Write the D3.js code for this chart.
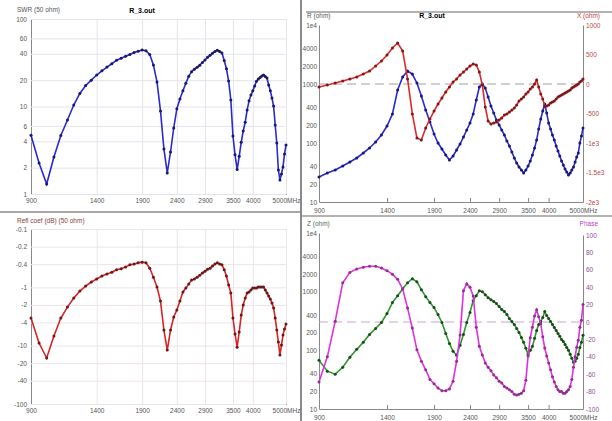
<!DOCTYPE html>
<html>
<head>
<meta charset="utf-8">
<script src="https://cdn.jsdelivr.net/npm/d3@7"></script>
<style>
body { margin: 0; background: #fff; }
text { font-family: "Liberation Sans", Arial, sans-serif; }
</style>
</head>
<body>
<script>
// sweep frequencies (MHz) shared by all four plots
const freqs = [900, 950, 1000, 1050, 1100, 1150, 1200, 1250, 1300, 1350, 1400,
  1450, 1500, 1550, 1600, 1650, 1700, 1750, 1800, 1850, 1900,
  1950, 2000, 2050, 2100, 2150, 2200, 2250, 2300, 2350, 2400,
  2450, 2500, 2550, 2600, 2650, 2700, 2750, 2800, 2850, 2900,
  2950, 3000, 3050, 3100, 3150, 3200, 3250, 3300, 3350, 3400,
  3450, 3500, 3550, 3600, 3650, 3700, 3750, 3800, 3850, 3900,
  3950, 4000, 4050, 4100, 4150, 4200, 4250, 4300, 4350, 4400,
  4450, 4500, 4550, 4600, 4650, 4700, 4750, 4800, 4850, 4900,
  4950, 5000];

// top left
const swr = [4.7, 2.26, 1.3, 2.65, 4.67, 7.0, 10.4, 14.1, 17.4, 20.0, 22.9,
  25.6, 28.2, 30.8, 33.8, 35.6, 37.6, 39.4, 41.3, 42.7, 44.2,
  43.3, 39.4, 29.8, 19.1, 8.9, 3.27, 1.74, 3.02, 5.68, 9.4,
  12.2, 15.1, 18.4, 22.2, 25, 26.7, 28.1, 29.7, 31.8, 34,
  36.5, 38.5, 40.5, 42.5, 44, 42.5, 41, 33.6, 27, 19.5,
  11.9, 4.6, 2.8, 1.9, 2.7, 3.9, 5.25, 6.6, 9.1, 11.6,
  13.5, 15.1, 17.2, 19.4, 20.6, 21.5, 22.3, 22.9, 22.0, 21.2,
  17.6, 15.1, 12.5, 10.1, 6.15, 3.83, 1.88, 1.45, 1.69, 2.04,
  2.86, 3.63];
// bottom left
const reflDb = [-3.36, -9.0, -16.3, -6.84, -3.36, -2.18, -1.53, -1.16, -0.95, -0.81, -0.72,
  -0.64, -0.59, -0.55, -0.5, -0.48, -0.45, -0.41, -0.4, -0.38, -0.37,
  -0.38, -0.47, -0.67, -0.99, -1.72, -5.4, -11.9, -5.4, -3.23, -2.45,
  -1.72, -1.2, -1.03, -0.88, -0.75, -0.72, -0.67, -0.62, -0.57, -0.53,
  -0.49, -0.47, -0.43, -0.4, -0.38, -0.4, -0.41, -0.5, -0.64, -0.91,
  -1.25, -3.36, -6.32, -10.6, -5.84, -2.99, -2.01, -1.53, -1.25, -1.2,
  -1.11, -1.03, -1.03, -1.03, -0.99, -0.99, -0.99, -0.99, -1.11, -1.25,
  -1.41, -1.59, -1.86, -2.26, -3.36, -5.4, -8.67, -14.5, -9.77, -6.58,
  -5.19, -4.26];
// top right
const resistance = [26.5, 31, 34.8, 40.7, 47.6, 55.7, 67.7, 82.3, 104, 137, 194,
  310, 791, 1315, 1660, 1476, 1040, 626, 362, 227, 142,
  100, 79, 62.6, 51.5, 60.2, 76.1, 96.2, 126, 166, 218,
  310, 535, 889, 1000, 855, 602, 424, 322, 245, 202,
  166, 137, 108, 89, 70.4, 55.7, 45.8, 39.2, 34.8, 31,
  34.8, 40.7, 49.5, 62.6, 82.3, 112, 173, 255, 348, 458,
  322, 218, 173, 137, 112, 89, 73.1, 60.2, 49.5, 42.4,
  36.2, 32.2, 28.7, 31, 34.8, 39.2, 47.6, 57.9, 67.7, 100,
  131, 180];
const reactance = [-51, -17, 17, 51, 85, 119, 169, 220, 305, 390, 492,
  610, 695, 559, 85, -508, -915, -949, -746, -593, -458,
  -339, -237, -136, -51, 34, 85, 153, 203, 254, 305,
  339, 322, 203, -17, -390, -627, -678, -661, -644, -610,
  -576, -525, -508, -475, -441, -407, -356, -288, -254, -220,
  -169, -136, -85, -51, 0, 68, -51, -169, -254, -373,
  -373, -356, -322, -305, -288, -254, -220, -203, -186, -169,
  -153, -136, -119, -102, -68, -51, -34, -17, 0, 34,
  51, 85];
// bottom right
const impedance = [67.7, 44.1, 39.2, 51.5, 76.1, 104, 137, 187, 236, 298, 424,
  652, 855, 1125, 1422, 1660, 1476, 1081, 822, 652, 535,
  407, 298, 194, 131, 96.2, 82.3, 122, 187, 298, 441,
  703, 855, 1040, 1000, 889, 791, 731, 677, 626, 557,
  495, 458, 407, 348, 310, 276, 236, 202, 166, 137,
  108, 85.5, 100, 117, 160, 218, 276, 310, 362, 458,
  392, 348, 310, 276, 245, 218, 194, 173, 153, 142,
  126, 112, 100, 85.5, 73.1, 62.6, 65.2, 73.1, 85.5, 112,
  137, 180];
const phase = [-69, -40, 1, 45, 57, 61, 63, 64, 64, 62, 59,
  55, 49, 38, 16, -7, -32, -45, -55, -66, -71,
  -76, -79, -79, -77, -68, -45, -15, 36, 44, 40,
  30, -6, -28, -38, -47, -52, -56, -61, -64, -68,
  -70, -74, -76, -78, -80, -83, -84, -83, -82, -79,
  -67, -39, -18, -6, 7, 14, 6, -2, -17, -30,
  -39, -47, -55, -63, -69, -74, -78, -80, -80, -82,
  -82, -80, -78, -74, -66, -52, -40, -29, -21, -6,
  2, 20];

// tick labels
const freqTicks = [900, 1400, 1900, 2400, 2900, 3500, 4000, 5000];
const swrTicks = [1, 2, 4, 6, 10, 20, 40, 60, 100];
const dbTicks = [-0.1, -0.2, -0.4, -1, -2, -4, -10, -20, -40, -100];
const ohmTicks = [10, 20, 40, 100, 200, 400, 1000, 2000, 4000, 10000];
const reactTicks = [1000, 500, 0, -500, -1000, -1500, -2000];
const phaseTicks = [100, 80, 60, 40, 20, 0, -20, -40, -60, -80, -100];

const W = 612, H = 421;
const fs = 6.5;

let svg = d3.select("body").append("svg")
    .attr("width", W)
    .attr("height", H);

// window frames
svg.append("line").attr("x1", 301).attr("x2", 301).attr("y1", 0).attr("y2", H)
    .attr("stroke", "#8a8a8a").attr("stroke-width", 2);
svg.append("line").attr("x1", 306).attr("x2", W).attr("y1", 12).attr("y2", 12)
    .attr("stroke", "#9a9a9a").attr("stroke-width", 1.5);
svg.append("line").attr("x1", 0).attr("x2", 300).attr("y1", 212).attr("y2", 212)
    .attr("stroke", "#8a8a8a").attr("stroke-width", 1.5);
svg.append("line").attr("x1", 302).attr("x2", W).attr("y1", 216).attr("y2", 216)
    .attr("stroke", "#9a9a9a").attr("stroke-width", 1.5);

let fmtFreq = d => d === 5000 ? "5000MHz" : d;
let fmtOhm = d => d === 10000 ? "1e4" : d;
let fmtReact = d => d <= -1000 ? (d / 1000) + "e3" : d;

function series(g, x, y, vals, lineColor, dotColor) {
  let pts = freqs.map((f, i) => [f, vals[i]]);
  g.append("path")
      .datum(pts)
      .attr("fill", "none")
      .attr("stroke", lineColor)
      .attr("stroke-width", 1.6)
      .attr("d", d3.line().x(d => x(d[0])).y(d => y(d[1])));
  g.selectAll(null).data(pts)
      .enter()
      .append("circle")
      .attr("cx", d => x(d[0]))
      .attr("cy", d => y(d[1]))
      .attr("r", 1.5)
      .attr("fill", dotColor);
}

function styleAxis(a, color, lineColor) {
  a.selectAll("text").style("font-size", fs + "px").attr("fill", color);
  a.select(".domain").attr("stroke", lineColor || "#888");
}

// ---------- top left: SWR ----------
let xL = d3.scaleLog().domain([900, 5000]).range([31, 286]);
let ySwr = d3.scaleLog().domain([1, 100]).range([194, 19]);
let g1 = svg.append("g");

let gx1 = g1.append("g").attr("transform", "translate(0,194)")
    .call(d3.axisBottom(xL).tickValues(freqTicks).tickFormat(fmtFreq).tickSize(-175).tickPadding(4));
gx1.selectAll(".tick line").attr("stroke", "#e4e4ec");
styleAxis(gx1, "#555");
let gy1 = g1.append("g").attr("transform", "translate(31,0)")
    .call(d3.axisLeft(ySwr).tickValues(swrTicks).tickFormat(d => d).tickSize(-255).tickPadding(4));
gy1.selectAll(".tick line").attr("stroke", "#e4e4ec");
styleAxis(gy1, "#555");

series(g1, xL, ySwr, swr, "#2a2ad0", "#1a1a60");

g1.append("text").attr("x", 17).attr("y", 12).style("font-size", fs + "px").attr("fill", "#555").text("SWR (50 ohm)");
g1.append("text").attr("x", 142).attr("y", 13).style("font-size", "7px").style("font-weight", "bold")
    .attr("text-anchor", "middle").text("R_3.out");

// ---------- bottom left: reflection coefficient ----------
let yDb = d3.scaleLog().domain([0.1, 100]).range([229, 404]);
let g2 = svg.append("g");

let gx2 = g2.append("g").attr("transform", "translate(0,404)")
    .call(d3.axisBottom(xL).tickValues(freqTicks).tickFormat(fmtFreq).tickSize(-175).tickPadding(4));
gx2.selectAll(".tick line").attr("stroke", "#ece4e8");
styleAxis(gx2, "#555");
let gy2 = g2.append("g").attr("transform", "translate(31,0)")
    .call(d3.axisLeft(d3.scaleLog().domain([-0.1, -100]).range([229, 404]))
        .tickValues(dbTicks).tickFormat(d => d).tickSize(-255).tickPadding(4));
gy2.selectAll(".tick line").attr("stroke", "#ece4e8");
styleAxis(gy2, "#555");

series(g2, xL, v => yDb(-v), reflDb, "#d82424", "#6a1818");

g2.append("text").attr("x", 17).attr("y", 223).style("font-size", fs + "px").attr("fill", "#8a4040")
    .text("Refl coef (dB) (50 ohm)");

// ---------- top right: R / X ----------
let xR = d3.scaleLog().domain([900, 5000]).range([319, 583]);
let yRes = d3.scaleLog().domain([10, 10000]).range([202, 25]);
let yReact = d3.scaleLinear().domain([-2000, 1000]).range([202, 25]);
let g3 = svg.append("g");

let gx3 = g3.append("g").attr("transform", "translate(0,202)")
    .call(d3.axisBottom(xR).tickValues(freqTicks).tickFormat(fmtFreq).tickSizeInner(-4).tickSizeOuter(0).tickPadding(6));
gx3.selectAll(".tick line").attr("stroke", "#888");
styleAxis(gx3, "#555");
let gy3 = g3.append("g").attr("transform", "translate(319,0)")
    .call(d3.axisLeft(yRes).tickValues(ohmTicks).tickFormat(fmtOhm).tickSize(0).tickPadding(2));
styleAxis(gy3, "#555");
let gy3r = g3.append("g").attr("transform", "translate(583,0)")
    .call(d3.axisRight(yReact).tickValues(reactTicks).tickFormat(fmtReact).tickSize(0).tickPadding(3));
styleAxis(gy3r, "#b84848");

g3.append("line").attr("x1", 319).attr("x2", 583).attr("y1", yReact(0)).attr("y2", yReact(0))
    .attr("stroke", "#a0a0a0").attr("stroke-dasharray", "9,5");

series(g3, xR, yRes, resistance, "#2a2ad0", "#1a1a70");
series(g3, xR, yReact, reactance, "#e02828", "#801818");

g3.append("text").attr("x", 307).attr("y", 18).style("font-size", fs + "px").attr("fill", "#555").text("R (ohm)");
g3.append("text").attr("x", 600).attr("y", 18).attr("text-anchor", "end").style("font-size", fs + "px")
    .attr("fill", "#c04040").text("X (ohm)");
g3.append("text").attr("x", 432).attr("y", 18).style("font-size", "7px").style("font-weight", "bold")
    .attr("text-anchor", "middle").text("R_3.out");

// ---------- bottom right: Z / phase ----------
let yZ = d3.scaleLog().domain([10, 10000]).range([409, 233]);
let yPh = d3.scaleLinear().domain([-100, 100]).range([409, 235]);
let g4 = svg.append("g");

let gx4 = g4.append("g").attr("transform", "translate(0,409)")
    .call(d3.axisBottom(xR).tickValues(freqTicks).tickFormat(fmtFreq).tickSizeInner(-4).tickSizeOuter(0).tickPadding(6));
gx4.selectAll(".tick line").attr("stroke", "#888");
styleAxis(gx4, "#555");
let gy4 = g4.append("g").attr("transform", "translate(319,0)")
    .call(d3.axisLeft(yZ).tickValues(ohmTicks).tickFormat(fmtOhm).tickSize(0).tickPadding(2));
styleAxis(gy4, "#555");
let gy4r = g4.append("g").attr("transform", "translate(583,0)")
    .call(d3.axisRight(yPh).tickValues(phaseTicks).tickFormat(d => d).tickSize(0).tickPadding(3));
styleAxis(gy4r, "#905090");

g4.append("line").attr("x1", 319).attr("x2", 583).attr("y1", yPh(0)).attr("y2", yPh(0))
    .attr("stroke", "#c4a8c8").attr("stroke-dasharray", "9,5");

series(g4, xR, yZ, impedance, "#2a9a2a", "#1c4a1c");
series(g4, xR, yPh, phase, "#e030e0", "#903090");

g4.append("text").attr("x", 307).attr("y", 226).style("font-size", fs + "px").attr("fill", "#507050").text("Z (ohm)");
g4.append("text").attr("x", 598).attr("y", 226).attr("text-anchor", "end").style("font-size", fs + "px")
    .attr("fill", "#c040c0").text("Phase");
</script>
</body>
</html>
